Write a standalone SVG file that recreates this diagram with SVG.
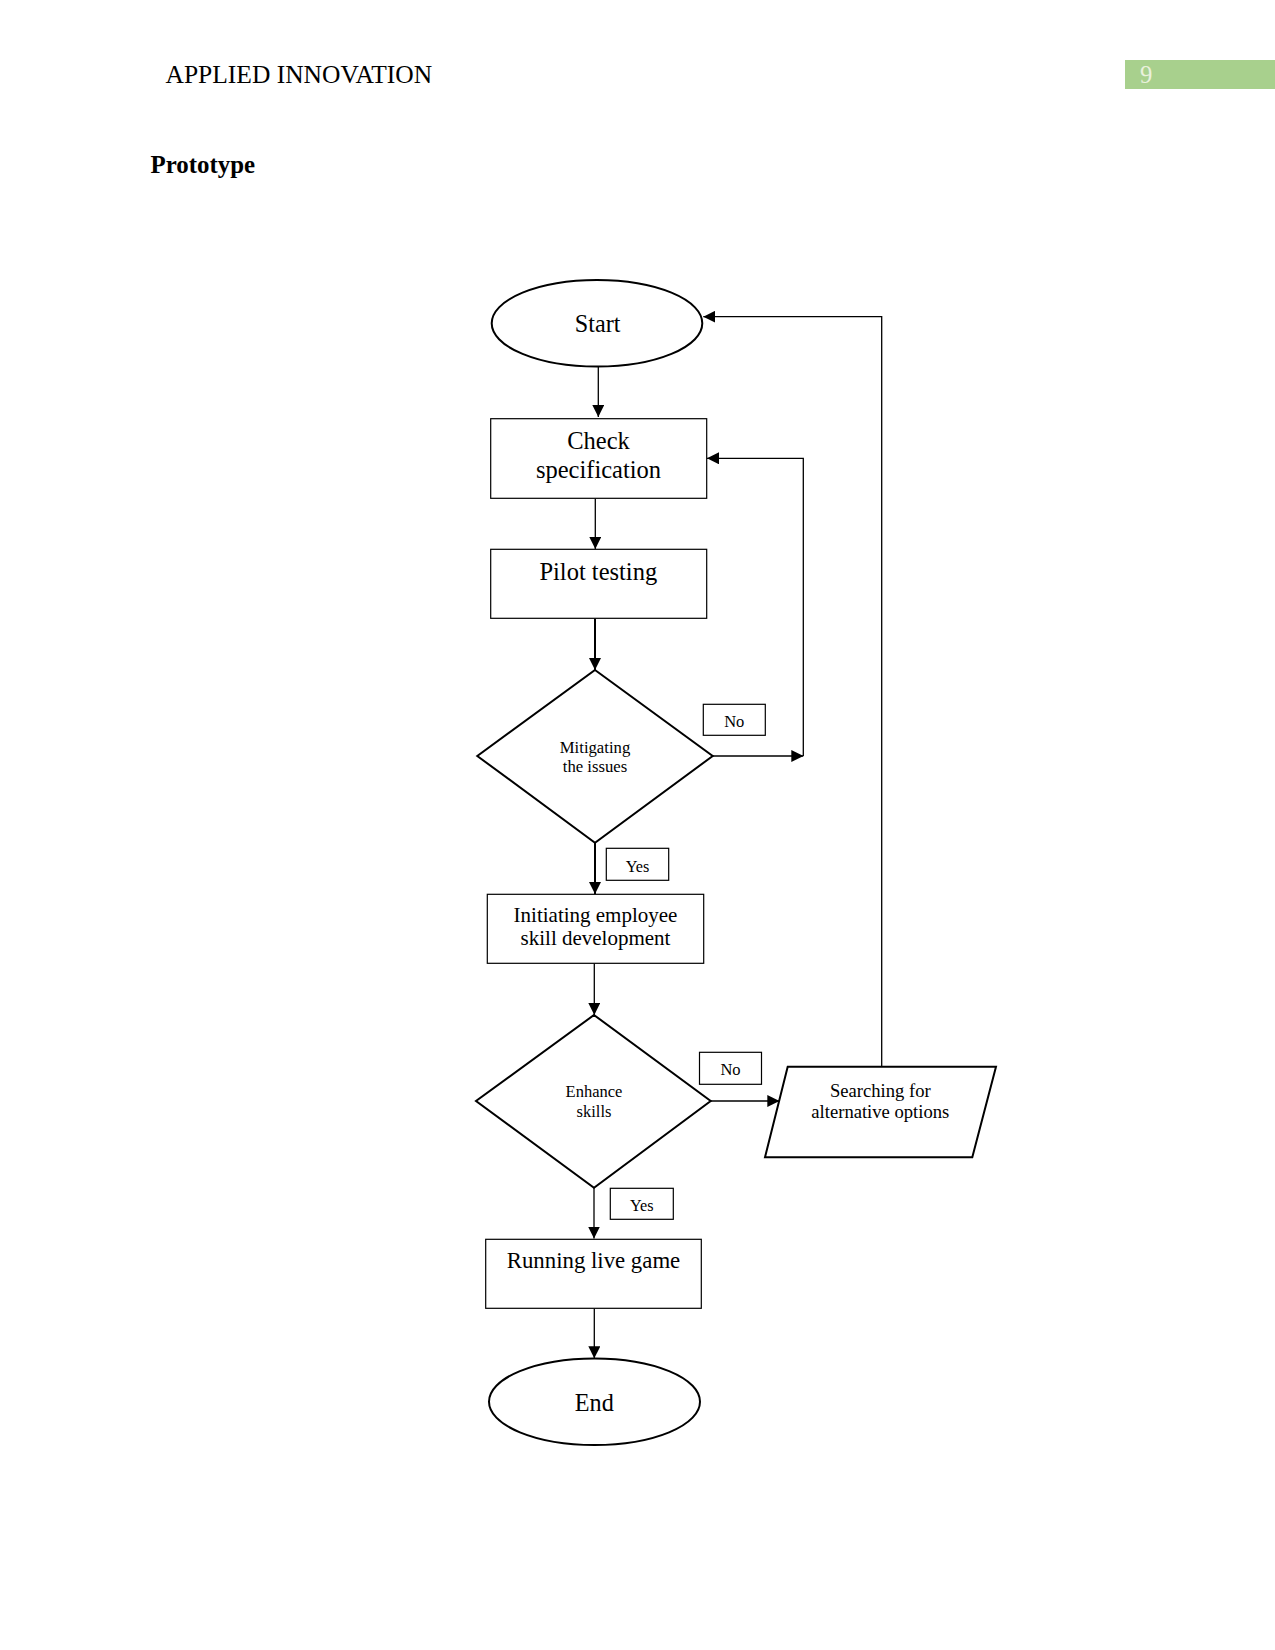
<svg xmlns="http://www.w3.org/2000/svg" width="1275" height="1650" viewBox="0 0 1275 1650">
<style>
text { font-family: "Liberation Serif", "Times New Roman", serif; fill: #000; }
.node { fill: #fff; stroke: #000; }
.thin { stroke-width: 1.2; }
.thick { stroke-width: 2; }
.conn { fill: none; stroke: #000; stroke-width: 1.3; }
.conn2 { fill: none; stroke: #000; stroke-width: 2; }
.lbl { fill: #fff; stroke: #000; stroke-width: 1.2; }
</style>
<defs>
<marker id="arr" viewBox="0 0 12 12" refX="12" refY="6" markerWidth="12" markerHeight="12" markerUnits="userSpaceOnUse" orient="auto">
<path d="M0,0 L12,6 L0,12 Z" fill="#000"/>
</marker>
</defs>
<rect width="1275" height="1650" fill="#fff"/>
<g id="header">
<text x="165.5" y="83" font-size="25.5">APPLIED INNOVATION</text>
<rect x="1125" y="60" width="150" height="29" fill="#A8D08D"/>
<text x="1140" y="83" font-size="24.7" fill="#EAF1DD" style="fill:#EAF1DD">9</text>
<text x="150.5" y="172.5" font-size="24.9" font-weight="bold">Prototype</text>
</g>
<g id="connectors">
<line class="conn" x1="598.3" y1="367" x2="598.3" y2="417" marker-end="url(#arr)"/>
<line class="conn" x1="595.3" y1="498.5" x2="595.3" y2="549" marker-end="url(#arr)"/>
<line class="conn2" x1="595" y1="618.5" x2="595" y2="670" marker-end="url(#arr)"/>
<line class="conn" x1="712.7" y1="756" x2="803.3" y2="756" marker-end="url(#arr)"/>
<polyline class="conn" points="803.3,756 803.3,458.3 707,458.3" marker-end="url(#arr)"/>
<line class="conn2" x1="595" y1="843" x2="595" y2="894" marker-end="url(#arr)"/>
<line class="conn" x1="594.3" y1="963.5" x2="594.3" y2="1015" marker-end="url(#arr)"/>
<line class="conn" x1="710.7" y1="1101" x2="779.3" y2="1101" marker-end="url(#arr)"/>
<polyline class="conn" points="881.7,1066.7 881.7,316.7 703.3,316.7" marker-end="url(#arr)"/>
<line class="conn" x1="594" y1="1188" x2="594" y2="1238.5" marker-end="url(#arr)"/>
<line class="conn" x1="594.3" y1="1308.5" x2="594.3" y2="1358.3" marker-end="url(#arr)"/>
</g>
<g id="start">
<ellipse class="node thick" cx="597" cy="323.3" rx="105.3" ry="43.3"/>
<text x="597.7" y="331.5" font-size="24.2" text-anchor="middle">Start</text>
</g>
<g id="check">
<rect class="node thin" x="490.7" y="418.7" width="216" height="79.6"/>
<text x="598.5" y="449" font-size="24.5" text-anchor="middle">Check</text>
<text x="598.5" y="477.5" font-size="24.5" text-anchor="middle">specification</text>
</g>
<g id="pilot">
<rect class="node thin" x="490.7" y="549.3" width="216" height="69"/>
<text x="598.3" y="580" font-size="24.5" text-anchor="middle">Pilot testing</text>
</g>
<g id="mitigating">
<polygon class="node thick" points="595,670 712.7,756 595,842.7 477.3,756"/>
<text x="595" y="752.5" font-size="16.7" text-anchor="middle">Mitigating</text>
<text x="595" y="771.7" font-size="16.7" text-anchor="middle">the issues</text>
</g>
<g id="no1">
<rect class="lbl" x="703.3" y="704.3" width="62" height="31"/>
<text x="734.3" y="727.3" font-size="16.5" text-anchor="middle">No</text>
</g>
<g id="yes1">
<rect class="lbl" x="606.3" y="848.3" width="62.4" height="32"/>
<text x="637.5" y="872.3" font-size="16.2" text-anchor="middle">Yes</text>
</g>
<g id="initiating">
<rect class="node thin" x="487.3" y="894.3" width="216.4" height="69"/>
<text x="595.5" y="921.7" font-size="21" text-anchor="middle">Initiating employee</text>
<text x="595.5" y="945" font-size="21" text-anchor="middle">skill development</text>
</g>
<g id="enhance">
<polygon class="node thick" points="594,1015 710.7,1101 594,1187.7 476,1101"/>
<text x="594" y="1096.7" font-size="16.5" text-anchor="middle">Enhance</text>
<text x="594" y="1116.7" font-size="16.5" text-anchor="middle">skills</text>
</g>
<g id="no2">
<rect class="lbl" x="699.5" y="1052.3" width="62" height="32"/>
<text x="730.5" y="1075" font-size="16.5" text-anchor="middle">No</text>
</g>
<g id="yes2">
<rect class="lbl" x="610.3" y="1188.3" width="63" height="31"/>
<text x="641.8" y="1210.7" font-size="16.2" text-anchor="middle">Yes</text>
</g>
<g id="searching">
<polygon class="node thick" points="787.7,1066.7 996,1066.7 972.3,1157.3 765,1157.3"/>
<text x="880.3" y="1097.3" font-size="18.6" text-anchor="middle">Searching for</text>
<text x="880.3" y="1118.3" font-size="18.6" text-anchor="middle">alternative options</text>
</g>
<g id="running">
<rect class="node thin" x="485.7" y="1239.3" width="215.6" height="69"/>
<text x="593.5" y="1267.7" font-size="22.8" text-anchor="middle">Running live game</text>
</g>
<g id="end">
<ellipse class="node thick" cx="594.5" cy="1401.7" rx="105.5" ry="43.3"/>
<text x="594.3" y="1411" font-size="24.2" text-anchor="middle">End</text>
</g>
</svg>
